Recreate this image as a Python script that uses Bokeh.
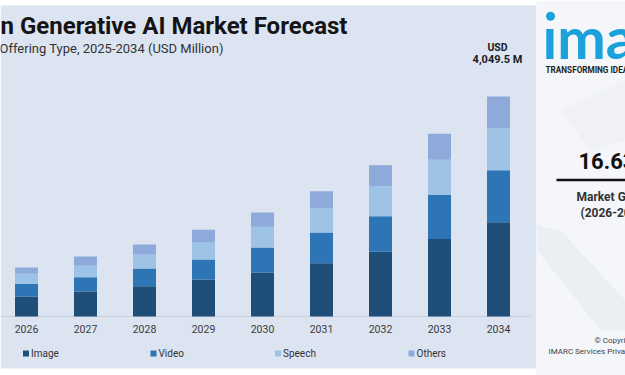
from bokeh.plotting import figure
from bokeh.models import Label, Range1d, ColumnDataSource
from bokeh.embed import file_html
from bokeh.resources import INLINE
from bokeh.core.properties import value

# ---------------- data ----------------
years = [2026, 2027, 2028, 2029, 2030, 2031, 2032, 2033, 2034]
image = [368, 460, 558, 681, 810, 981, 1191, 1427, 1736]
video = [230, 263, 326, 368, 460, 565, 655, 810, 957]
speech = [188, 210, 258, 313, 381, 442, 552, 648, 773]
others = [116, 171, 184, 234, 263, 318, 387, 479, 584]
segments = ["Image", "Video", "Speech", "Others"]
seg_colors = ["#1f4e79", "#2e75b6", "#9dc3e6", "#8eaadb"]
title_text = "n Generative AI Market Forecast"
subtitle_text = "Offering Type, 2025-2034 (USD Million)"
total_unit = "USD"
total_text = "4,049.5 M"
cagr_text = "16.63%"
cagr_label = "Market Growth Rate"
cagr_period = "(2026-2034)"

# ---------------- layout (pixels) ----------------
W, H = 625, 375
STEP = 59.0      # px between bars
X0 = 26.0        # px centre of first bar
BASE = 316.0     # px of zero line
TOP = 96.0       # px of the largest total
total_max = image[-1] + video[-1] + speech[-1] + others[-1]
S = total_max / (BASE - TOP)

x_start = years[0] - X0 / STEP
x_end = years[0] + (W - X0) / STEP
y_start = -(H - BASE) * S
y_end = BASE * S


def X(px):
    return x_start + px / STEP


def Y(px):
    return (BASE - px) * S


p = figure(width=W, height=H, output_backend="svg", toolbar_location=None,
           x_range=Range1d(x_start, x_end), y_range=Range1d(y_start, y_end),
           x_axis_location=None, y_axis_location=None, min_border=0,
           background_fill_color="white", border_fill_color="white",
           outline_line_color=None)
p.grid.visible = False
p.title.visible = False

# panels
p.quad(left=[X(0)], right=[X(536)], top=[Y(5)], bottom=[Y(368)],
       fill_color="#dce4f2", line_color=None)
p.quad(left=[X(536)], right=[X(W)], top=[Y(0)], bottom=[Y(H)],
       fill_color="#f4f6f9", line_color=None)
# faint decorative shapes on the right panel
p.patch(x=[X(537), X(600), X(625), X(625), X(560), X(537)],
        y=[Y(250), Y(330), Y(330), Y(300), Y(230), Y(225)],
        fill_color="#e9ecf0", line_color=None, fill_alpha=0.8)
p.patch(x=[X(560), X(625), X(625), X(590)],
        y=[Y(110), Y(80), Y(140), Y(150)],
        fill_color="#eef1f4", line_color=None, fill_alpha=0.9)

# zero line
p.line(x=[X(0), X(530)], y=[0, 0], line_color="#c9d1df", line_width=1)

# bars
src = ColumnDataSource(dict(year=years, Image=image, Video=video,
                            Speech=speech, Others=others))
p.vbar_stack(segments, x="year", width=23.0 / STEP, color=seg_colors,
             line_color=None, source=src)

# year labels
p.text(x=years, y=[Y(328.5)] * len(years), text=[str(y) for y in years],
       text_align="center", text_baseline="middle", text_font=value("Roboto"),
       text_font_size="10.5px", text_color="#3a3a3a")

# legend (manual)
leg_px = [25.5, 153, 277.5, 411]
p.scatter(x=[X(v) for v in leg_px], y=[Y(353)] * 4, marker="square", size=6,
          fill_color=seg_colors, line_color=None)
p.text(x=[X(v + 5) for v in leg_px], y=[Y(352.5)] * 4, text=segments,
       text_align="left", text_baseline="middle", text_font=value("Roboto"),
       text_font_size="10px", text_color="#333333")


def lab(txt, px, py, size, bold=False, color="#222222", align="left",
        base="middle", font="Roboto"):
    p.add_layout(Label(x=X(px), y=Y(py), text=txt, text_font=font,
                       text_font_size=size,
                       text_font_style="bold" if bold else "normal",
                       text_color=color, text_align=align, text_baseline=base))


# titles
lab(title_text, 0, 25, "24px", bold=True, color="#141414")
lab(subtitle_text, -1, 47.5, "13px", color="#333333")

# total label above last bar
lab(total_unit, 497, 46.5, "10.5px", bold=True, color="#1a1a1a", align="center")
lab(total_text, 497, 58.5, "11px", bold=True, color="#1a1a1a", align="center")

# logo
p.scatter(x=[X(550)], y=[Y(15.7)], marker="circle", size=9,
          fill_color="#1ba1dc", line_color=None)
lab("\u0131marc", 542, 36, "58px", bold=True, color="#1ba1dc", font="Lato")
lab("TRANSFORMING IDEAS", 545, 69, "8.2px", bold=True, color="#222222")

# CAGR block
lab(cagr_text, 578, 161, "22px", bold=True, color="#111111")
p.line(x=[X(556), X(W)], y=[Y(179.5)] * 2, line_color="#111111", line_width=2.5)
lab(cagr_label, 576, 196, "12px", bold=True, color="#333333")
lab(cagr_period, 580, 212, "12px", bold=True, color="#333333")

# copyright
lab("\u00a9 Copyright", 594, 340, "8px", color="#444444")
lab("IMARC Services Private Limited", 548, 351, "8px", color="#444444")

open("out.html", "w").write(file_html(p, INLINE))
